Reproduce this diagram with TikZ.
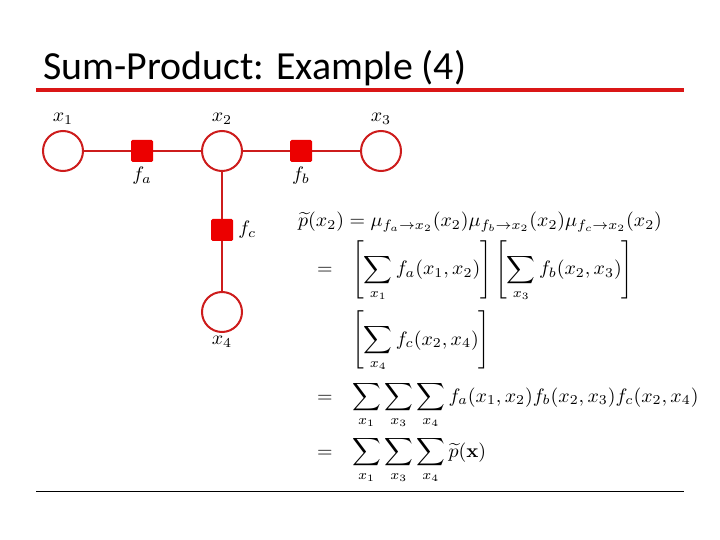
\documentclass[tikz,border=0pt]{standalone}
\usepackage{amsmath, amssymb}
\usepackage{bm}
\usepackage[no-math]{fontspec}
\newfontfamily\titlefont{Carlito}
\usepackage{tikz}
\usetikzlibrary{positioning}

\definecolor{ruleRed}{RGB}{218,22,22}
\definecolor{edgeRed}{RGB}{205,28,28}
\definecolor{boxRed}{RGB}{236,0,0}

% 10pt math blown up to the slide's size
\newcommand{\eqmath}[1]{\scalebox{2.0}[1.95]{$\displaystyle #1$}}
\newcommand{\lblmath}[1]{\scalebox{2.0}[1.95]{$#1$}}

\begin{document}
\begin{tikzpicture}[x=1bp,y=-1bp,
    varnode/.style={circle, draw=edgeRed, line width=2bp, fill=white, minimum size=40bp, inner sep=0pt},
    factornode/.style={rectangle, rounded corners=1.5bp, fill=boxRed, minimum size=22bp, inner sep=0pt},
    edge/.style={edgeRed, line width=2bp},
    lbl/.style={inner sep=0pt},
    eqline/.style={anchor=base west, inner sep=0pt}]
            \useasboundingbox (0,0) rectangle (720,540);
            % title and rules
            \node[anchor=base west, inner sep=0pt, font=\titlefont\fontsize{40}{48}\selectfont] (title) at (43,80) {Sum-Product: Example (4)};
            \draw[ruleRed, line width=4bp] (36,90) -- (684,90);
            \draw[black, line width=1bp] (36,491) -- (684,491);
            % factor graph
            \node[varnode] (x1) at (63,151) {};
            \node[factornode] (fa) at (142,151) {};
            \node[varnode] (x2) at (222,151) {};
            \node[factornode] (fb) at (301,151) {};
            \node[varnode] (x3) at (381,151) {};
            \node[factornode] (fc) at (222,230) {};
            \node[varnode] (x4) at (222,312) {};
            \draw[edge] (x1) -- (fa) -- (x2) -- (fb) -- (x3);
            \draw[edge] (x2) -- (fc) -- (x4);
            \node[lbl, above=5bp of x1] (x1lbl) {\lblmath{x_1}};
            \node[lbl, above=5bp of x2] (x2lbl) {\lblmath{x_2}};
            \node[lbl, above=5bp of x3] (x3lbl) {\lblmath{x_3}};
            \node[lbl, below=5bp of fa] (falbl) {\lblmath{f_a}};
            \node[lbl, below=5bp of fb] (fblbl) {\lblmath{f_b}};
            \node[lbl, right=5bp of fc] (fclbl) {\lblmath{f_c}};
            \node[lbl, below=3bp of x4] (x4lbl) {\lblmath{x_4}};
            % sum-product equations
            \node[eqline] (eqA) at (298,227) {\eqmath{\widetilde{p}(x_2) = \mu_{f_a\to x_2}(x_2)\mu_{f_b\to x_2}(x_2)\mu_{f_c\to x_2}(x_2)}};
            \node[eqline] (eqBeq) at (317,275) {\eqmath{=}};
            \node[eqline] (eqB) at (352,275) {\eqmath{\left[\sum_{x_1} f_a(x_1,x_2)\right] \left[\sum_{x_3} f_b(x_2,x_3)\right]}};
            \node[eqline] (eqC) at (352,345) {\eqmath{\left[\sum_{x_4} f_c(x_2,x_4)\right]}};
            \node[eqline] (eqDeq) at (317,402) {\eqmath{=}};
            \node[eqline] (eqD) at (352,402) {\eqmath{\sum_{x_1}\sum_{x_3}\sum_{x_4} f_a(x_1,x_2)f_b(x_2,x_3)f_c(x_2,x_4)}};
            \node[eqline] (eqEeq) at (317,457) {\eqmath{=}};
            \node[eqline] (eqE) at (352,457) {\eqmath{\sum_{x_1}\sum_{x_3}\sum_{x_4} \widetilde{p}(\mathbf{x})}};
        \end{tikzpicture}
\end{document}
